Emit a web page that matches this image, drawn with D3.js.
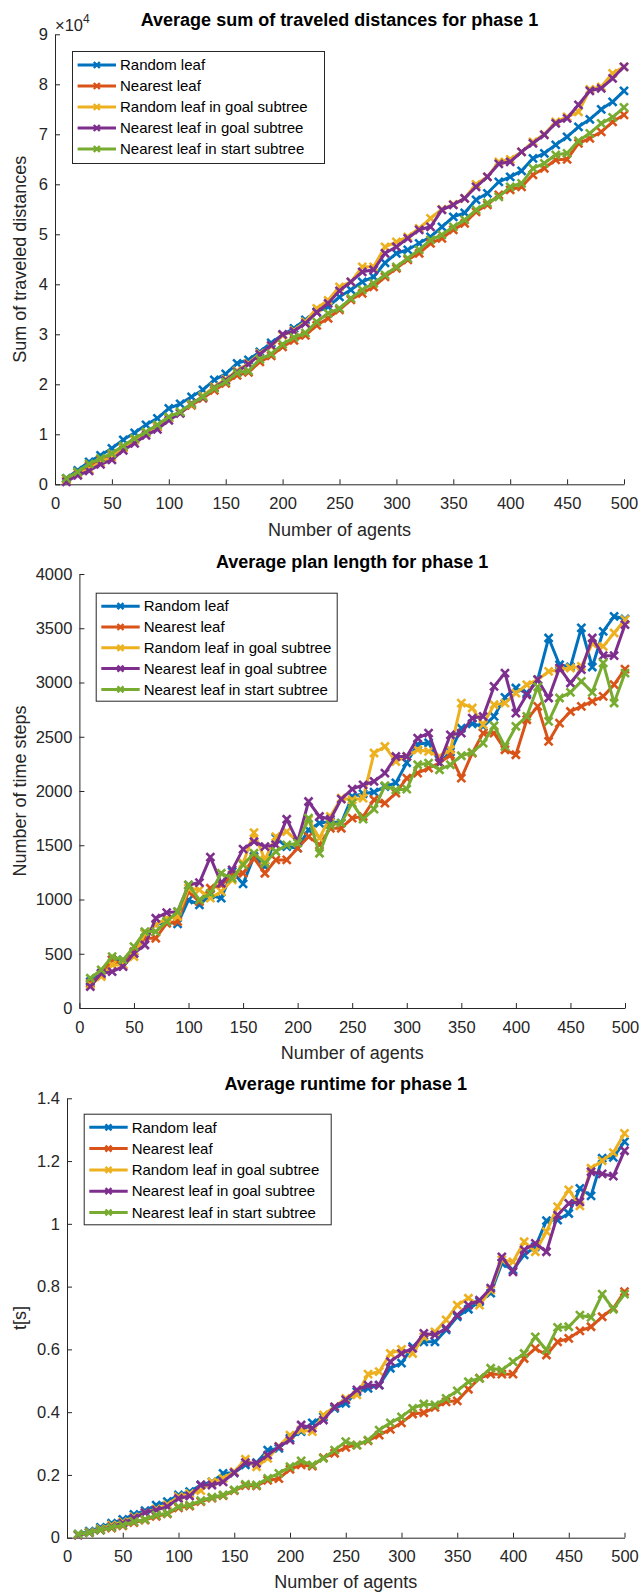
<!DOCTYPE html>
<html><head><meta charset="utf-8">
<script src="https://cdn.jsdelivr.net/npm/d3@7/dist/d3.min.js"></script>
<style>body{margin:0;background:#fff} text{font-family:"Liberation Sans",Arial,Helvetica,sans-serif}</style>
</head><body><svg id="c" width="641" height="1593" style="display:block;background:#fff"></svg>
<script>
const agents = [10,20,30,40,50,60,70,80,90,100,110,120,130,140,150,160,170,180,190,200,210,220,230,240,250,260,270,280,290,300,310,320,330,340,350,360,370,380,390,400,410,420,430,440,450,460,470,480,490,500];
const seriesNames = ["Random leaf","Nearest leaf","Random leaf in goal subtree","Nearest leaf in goal subtree","Nearest leaf in start subtree"];
const seriesColors = ["#0072BD","#D95319","#EDB120","#7E2F8E","#77AC30"];
const xTicks = [0,50,100,150,200,250,300,350,400,450,500];

// Plot 1: average sum of traveled distances (x 10^4)
const distRandom = [0.12,0.28,0.45,0.58,0.72,0.89,1.03,1.19,1.32,1.52,1.61,1.75,1.89,2.09,2.21,2.42,2.49,2.65,2.83,2.99,3.12,3.29,3.45,
  3.55,3.75,3.89,4.05,4.15,4.43,4.62,4.69,4.82,4.95,5.15,5.35,5.43,5.69,5.82,6.05,6.15,6.27,6.52,6.62,6.79,6.95,7.15,7.30,7.50,7.65,7.87];
const distNearest = [0.11,0.24,0.38,0.50,0.60,0.74,0.90,1.03,1.15,1.32,1.43,1.58,1.72,1.88,2.02,2.18,2.24,2.45,2.57,2.75,2.88,2.98,3.18,
  3.32,3.49,3.69,3.82,3.95,4.15,4.32,4.49,4.62,4.82,4.92,5.09,5.22,5.45,5.59,5.79,5.89,5.95,6.19,6.32,6.49,6.50,6.82,6.92,7.05,7.25,7.39];
const distRandomGoal = [0.08,0.20,0.30,0.44,0.55,0.72,0.88,1.02,1.16,1.33,1.44,1.60,1.77,1.95,2.10,2.27,2.42,2.62,2.76,2.98,3.08,3.25,3.52,
  3.68,3.95,4.05,4.35,4.35,4.75,4.85,4.95,5.12,5.32,5.50,5.60,5.72,6.00,6.15,6.45,6.50,6.65,6.85,7.00,7.25,7.35,7.45,7.90,7.95,8.22,8.35];
const distNearestGoal = [0.05,0.18,0.27,0.40,0.49,0.68,0.82,0.98,1.10,1.28,1.42,1.62,1.74,1.93,2.08,2.25,2.40,2.60,2.78,3.00,3.06,3.22,3.44,
  3.62,3.87,4.05,4.25,4.29,4.62,4.75,4.92,5.09,5.15,5.49,5.59,5.72,5.95,6.15,6.41,6.45,6.65,6.82,6.99,7.22,7.32,7.59,7.87,7.92,8.12,8.35];
const distNearestStart = [0.12,0.25,0.41,0.52,0.62,0.77,0.92,1.05,1.19,1.35,1.45,1.61,1.75,1.92,2.05,2.23,2.27,2.50,2.61,2.80,2.94,3.03,3.25,
  3.42,3.52,3.72,3.89,4.02,4.19,4.35,4.52,4.69,4.89,4.99,5.15,5.29,5.49,5.63,5.75,5.95,6.02,6.32,6.42,6.59,6.62,6.87,7.02,7.22,7.34,7.54];
const distTicks = [0,1,2,3,4,5,6,7,8,9];

// Plot 2: average plan length
const planRandom = [243,320,443,443,504,689,766,796,775,996,950,1042,1012,1257,1144,1396,1304,1565,1488,1473,1642,1704,1719,1704,1950,
  1975,1990,2040,2075,2260,2430,2445,2260,2360,2580,2620,2595,2688,2863,2949,2903,3026,3410,3164,3143,3503,3143,3471,3610,3585];
const planNearest = [228,304,443,397,519,643,643,781,797,1073,981,1104,1134,1227,1242,1380,1242,1365,1365,1473,1580,1503,1657,1657,1750,
  1765,1919,1888,1980,2119,2165,2211,2257,2334,2119,2349,2534,2534,2380,2334,2657,2780,2457,2626,2733,2780,2826,2872,2980,3124];
const planRandomGoal = [212,289,397,397,474,689,766,827,842,1104,1088,1012,1073,1181,1334,1617,1365,1580,1626,1534,1734,1565,1765,1934,1919,
  1934,2350,2410,2272,2318,2380,2365,2318,2380,2810,2765,2611,2795,2810,2902,2979,3026,3102,3118,3134,3149,3358,3333,3456,3579];
const planNearestGoal = [197,320,335,381,504,581,827,879,888,1134,1156,1390,1150,1273,1464,1534,1488,1503,1740,1534,1903,1765,1740,1925,2017,
  2057,2088,2165,2318,2318,2488,2534,2257,2518,2534,2672,2687,2964,3087,2718,2887,3026,2857,3134,2995,3118,3410,3247,3247,3533];
const planNearestStart = [274,351,474,443,566,704,704,797,888,1134,996,1058,1242,1196,1319,1426,1334,1442,1503,1519,1750,1426,1688,1704,1888,
  1741,1833,2048,2011,2017,2242,2257,2196,2242,2325,2355,2441,2601,2410,2595,2688,2960,2641,2857,2909,3011,2909,3180,2811,3087];
const planTicks = [0,500,1000,1500,2000,2500,3000,3500,4000];

// Plot 3: average runtime [s]
const timeRandom = [0.011,0.021,0.033,0.046,0.058,0.074,0.086,0.104,0.115,0.136,0.147,0.168,0.178,0.205,0.207,0.232,0.239,0.279,0.285,0.317,0.338,0.366,0.385,
  0.412,0.428,0.465,0.476,0.486,0.540,0.556,0.609,0.624,0.624,0.662,0.704,0.728,0.752,0.779,0.874,0.853,0.901,0.927,1.010,1.012,1.033,1.113,1.089,1.209,1.212,1.262];
const timeNearest = [0.010,0.016,0.024,0.031,0.038,0.048,0.056,0.068,0.076,0.095,0.101,0.115,0.126,0.134,0.150,0.166,0.165,0.183,0.188,0.218,0.232,0.228,0.255,
  0.269,0.288,0.295,0.309,0.327,0.345,0.366,0.394,0.398,0.415,0.433,0.436,0.473,0.508,0.521,0.521,0.521,0.571,0.603,0.582,0.624,0.635,0.659,0.672,0.704,0.731,0.784];
const timeRandomGoal = [0.009,0.018,0.028,0.040,0.050,0.066,0.080,0.092,0.105,0.131,0.140,0.150,0.178,0.189,0.210,0.250,0.226,0.253,0.291,0.327,0.343,0.338,0.391,
  0.417,0.444,0.455,0.521,0.529,0.587,0.600,0.587,0.640,0.656,0.694,0.741,0.763,0.741,0.789,0.885,0.879,0.943,0.911,0.975,1.055,1.108,1.057,1.177,1.201,1.227,1.288];
const timeNearestGoal = [0.008,0.016,0.025,0.035,0.046,0.062,0.080,0.088,0.099,0.125,0.133,0.168,0.168,0.178,0.207,0.239,0.237,0.263,0.290,0.311,0.359,0.349,0.375,
  0.417,0.439,0.471,0.486,0.486,0.561,0.587,0.603,0.651,0.646,0.667,0.709,0.741,0.757,0.795,0.895,0.847,0.917,0.938,0.911,1.028,1.065,1.070,1.166,1.159,1.152,1.233];
const timeNearestStart = [0.011,0.016,0.025,0.033,0.040,0.051,0.058,0.072,0.078,0.099,0.104,0.118,0.129,0.136,0.152,0.170,0.168,0.189,0.205,0.226,0.245,0.232,0.253,
  0.279,0.306,0.295,0.311,0.343,0.366,0.385,0.412,0.426,0.423,0.444,0.468,0.497,0.508,0.540,0.534,0.561,0.587,0.640,0.598,0.670,0.672,0.709,0.702,0.776,0.728,0.776];
const timeTicks = [0,0.2,0.4,0.6,0.8,1,1.2,1.4];

const svg = d3.select("#c");
svg.append("rect").attr("width",641).attr("height",1593).attr("fill","#fff");
const AX = "#262626";

function xMark(cx, cy, s) { return `M${cx-s},${cy-s}L${cx+s},${cy+s}M${cx-s},${cy+s}L${cx+s},${cy-s}`; }

function panel(cfg) {
  const g = svg.append("g");
  const x = d3.scaleLinear().domain([0,500]).range([cfg.left, cfg.right]);
  const y = d3.scaleLinear().domain([0,cfg.yMax]).range([cfg.bottom, cfg.top]);

  const xa = g.append("g").attr("transform",`translate(0,${cfg.bottom})`)
    .call(d3.axisBottom(x).tickValues(xTicks).tickSizeInner(-5).tickSizeOuter(0).tickPadding(13).tickFormat(d3.format("d")));
  const ya = g.append("g").attr("transform",`translate(${cfg.left},0)`)
    .call(d3.axisLeft(y).tickValues(cfg.ticks).tickSizeInner(-5).tickSizeOuter(0).tickPadding(7).tickFormat(d => String(+d.toFixed(1))));
  [xa,ya].forEach(a => {
    a.select(".domain").attr("stroke",AX).attr("stroke-width",1);
    a.selectAll(".tick line").attr("stroke",AX);
    a.selectAll(".tick text").attr("fill",AX).style("font-size","16.5px").style("font-family",'"Liberation Sans",Arial,sans-serif');
  });

  const line = d3.line().x((d,i) => x(agents[i])).y(d => y(d));
  const s = 4;
  cfg.series.forEach((vals, k) => {
    const sg = g.append("g");
    sg.append("path").attr("d", line(vals)).attr("fill","none").attr("stroke",seriesColors[k])
      .attr("stroke-width",3).attr("stroke-linejoin","round");
    sg.selectAll("path.m").data(vals).join("path").attr("class","m")
      .attr("d",(d,i) => xMark(x(agents[i]), y(d), s))
      .attr("stroke",seriesColors[k]).attr("stroke-width",2.6).attr("fill","none");
  });

  g.append("text").attr("x",(cfg.left+cfg.right)/2).attr("y",cfg.titleY).attr("dy","0.35em")
    .attr("text-anchor","middle").style("font-size","18px").style("font-weight","bold").attr("fill","#000").text(cfg.title);
  g.append("text").attr("x",(cfg.left+cfg.right)/2).attr("y",cfg.xlabelY).attr("dy","0.35em")
    .attr("text-anchor","middle").style("font-size","18px").attr("fill",AX).text("Number of agents");
  g.append("text").attr("transform",`translate(${cfg.ylabelX},${(cfg.top+cfg.bottom)/2}) rotate(-90)`).attr("dy","0.35em")
    .attr("text-anchor","middle").style("font-size","18px").attr("fill",AX).text(cfg.ylabel);

  if (cfg.exponent) {
    const t = g.append("text").attr("x",cfg.left).attr("y",cfg.top-3).style("font-size","16.5px").attr("fill",AX);
    t.append("tspan").text("×10");
    t.append("tspan").attr("dy","-8").style("font-size","12px").text(cfg.exponent);
  }

  const L = cfg.legend;
  const lg = g.append("g");
  lg.append("rect").attr("x",L.x+0.5).attr("y",L.y+0.5).attr("width",L.w).attr("height",L.h)
    .attr("fill","#fff").attr("stroke",AX).attr("stroke-width",1);
  seriesNames.forEach((name,k) => {
    const ry = L.y + L.first + k*L.step;
    const x1 = L.x+5.6, x2 = L.x+44, cx = (x1+x2)/2;
    lg.append("line").attr("x1",x1).attr("x2",x2).attr("y1",ry).attr("y2",ry).attr("stroke",seriesColors[k]).attr("stroke-width",3);
    lg.append("path").attr("d",xMark(cx, ry, 3)).attr("stroke",seriesColors[k]).attr("stroke-width",2.4);
    lg.append("text").attr("x",L.x+48).attr("y",ry).attr("dy","0.35em").style("font-size","15px").attr("fill","#000").text(name);
  });
}

panel({left:55, right:624, top:34.3, bottom:484.3, yMax:9, ticks:distTicks,
  series:[distRandom,distNearest,distRandomGoal,distNearestGoal,distNearestStart],
  title:"Average sum of traveled distances for phase 1", titleY:20, xlabelY:530, ylabelX:20,
  ylabel:"Sum of traveled distances", exponent:"4",
  legend:{x:72, y:51, w:252, h:112, first:14, step:21}});

panel({left:79.4, right:625, top:574, bottom:1008, yMax:4000, ticks:planTicks,
  series:[planRandom,planNearest,planRandomGoal,planNearestGoal,planNearestStart],
  title:"Average plan length for phase 1", titleY:561.7, xlabelY:1053, ylabelX:20,
  ylabel:"Number of time steps",
  legend:{x:95.7, y:592.7, w:241, h:108, first:13.5, step:20.8}});

panel({left:67, right:624.5, top:1098.3, bottom:1537.7, yMax:1.4, ticks:timeTicks,
  series:[timeRandom,timeNearest,timeRandomGoal,timeNearestGoal,timeNearestStart],
  title:"Average runtime for phase 1", titleY:1083.3, xlabelY:1581.7, ylabelX:20,
  ylabel:"t[s]",
  legend:{x:83.7, y:1113.7, w:247, h:110.6, first:13.6, step:21.3}});
</script>
</body></html>
